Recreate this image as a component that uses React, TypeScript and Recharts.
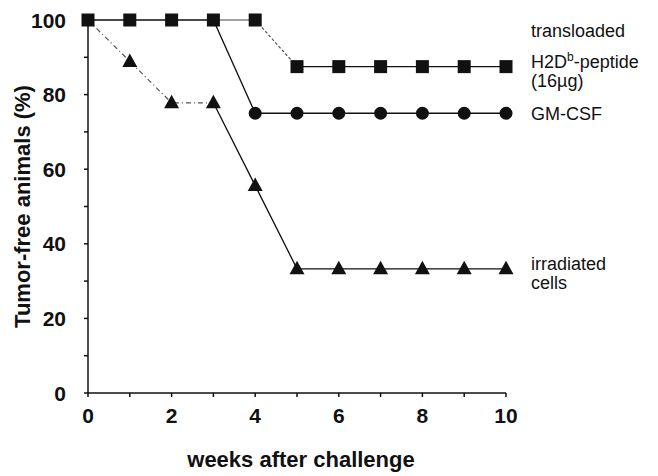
import React from "react";
import {
  LineChart,
  Line,
  XAxis,
  YAxis,
  Label,
  LabelList,
} from "recharts";

const weeks = [0, 1, 2, 3, 4, 5, 6, 7, 8, 9, 10];
const peptide = [100, 100, 100, 100, 100, 87.5, 87.5, 87.5, 87.5, 87.5, 87.5];
const gmcsf = [100, 100, 100, 100, 75, 75, 75, 75, 75, 75, 75];
const irradiated = [100, 88.9, 77.8, 77.8, 55.6, 33.3, 33.3, 33.3, 33.3, 33.3, 33.3];

const xTicks = weeks;
const yTicks = [0, 10, 20, 30, 40, 50, 60, 70, 80, 90, 100];

const FONT = "'Liberation Sans', Arial, Helvetica, sans-serif";
const INK = "#111";

// segments split so the faint parts of the scan can be drawn lighter / dashed
const data = weeks.map((w, i) => ({
  week: w,
  pepEarly: i <= 4 ? peptide[i] : null,
  pepDrop: i >= 4 && i <= 5 ? peptide[i] : null,
  pepLate: i >= 5 ? peptide[i] : null,
  peptide: peptide[i],
  gmcsf: gmcsf[i],
  irrEarly: i <= 3 ? irradiated[i] : null,
  irrLate: i >= 3 ? irradiated[i] : null,
  irradiated: irradiated[i],
}));

const none = (p: any) => <g key={p.key ?? `n-${p.index}`} />;

const squareDot = (p: any) => (
  <rect key={p.key ?? `s-${p.index}`} x={p.cx - 6.5} y={p.cy - 6.5} width={13} height={13} fill={INK} />
);

const circleDot = (p: any) =>
  p.payload.week >= 4 ? (
    <circle key={p.key ?? `c-${p.index}`} cx={p.cx} cy={p.cy} r={6.5} fill={INK} />
  ) : (
    none(p)
  );

const triangleDot = (p: any) =>
  p.payload.week >= 1 ? (
    <path
      key={p.key ?? `t-${p.index}`}
      d={`M${p.cx},${p.cy - 8} L${p.cx + 7.5},${p.cy + 5.5} L${p.cx - 7.5},${p.cy + 5.5} Z`}
      fill={INK}
    />
  ) : (
    none(p)
  );

const endLabel = (lines: { text: string; dy: number; sup?: string; rest?: string }[]) =>
  (props: any) => {
    const { x, y, index } = props;
    if (index !== weeks.length - 1) return null;
    return (
      <g>
        {lines.map((l, k) => (
          <text key={k} x={x + 25} y={y + l.dy} fontFamily={FONT} fontSize={18} fill={INK}>
            {l.text}
            {l.sup && (
              <tspan fontSize={12} dy={-7}>
                {l.sup}
              </tspan>
            )}
            {l.rest && <tspan dy={7}>{l.rest}</tspan>}
          </text>
        ))}
      </g>
    );
  };

const XTick = (p: any) => {
  const v = p.payload.value;
  if (v % 2 !== 0) return <g />;
  return (
    <text x={p.x} y={p.y} dy="0.72em" textAnchor="middle" fontFamily={FONT} fontWeight="bold" fontSize={21} fill={INK}>
      {v}
    </text>
  );
};

const YTick = (p: any) => {
  const v = p.payload.value;
  if (v % 20 !== 0) return <g />;
  return (
    <text x={p.x - 9} y={p.y} dy="0.36em" textAnchor="end" fontFamily={FONT} fontWeight="bold" fontSize={21} fill={INK}>
      {v}
    </text>
  );
};

export default function App() {
  return (
    <div style={{ position: "absolute", left: 0, top: 0, width: 658, height: 476, background: "#fff" }}>
      <LineChart
        width={658}
        height={476}
        data={data}
        margin={{ top: 20, right: 152, left: 48, bottom: 43 }}
      >
        <XAxis
          dataKey="week"
          type="number"
          domain={[0, 10]}
          ticks={xTicks}
          interval={0}
          height={40}
          tickSize={4}
          tickMargin={11}
          stroke={INK}
          strokeWidth={1.5}
          tick={<XTick />}
        >
          <Label
            content={({ viewBox }: any) => (
              <text
                x={viewBox.x + viewBox.width / 2 + 4}
                y={viewBox.y + 74}
                textAnchor="middle"
                fontFamily={FONT}
                fontWeight="bold"
                fontSize={22}
                fill={INK}
              >
                weeks after challenge
              </text>
            )}
          />
        </XAxis>
        <YAxis
          type="number"
          domain={[0, 100]}
          ticks={yTicks}
          interval={0}
          width={40}
          tickSize={4}
          tickMargin={9}
          stroke={INK}
          strokeWidth={1.5}
          tick={<YTick />}
        >
          <Label
            content={({ viewBox }: any) => {
              const cx = viewBox.x - 26;
              const cy = viewBox.y + viewBox.height / 2;
              return (
                <text
                  x={cx}
                  y={cy}
                  transform={`rotate(-90 ${cx} ${cy})`}
                  textAnchor="middle"
                  dominantBaseline="central"
                  fontFamily={FONT}
                  fontWeight="bold"
                  fontSize={22}
                  fill={INK}
                >
                  Tumor-free animals (%)
                </text>
              );
            }}
          />
        </YAxis>

        <Line dataKey="irrEarly" stroke="#555" strokeWidth={1.2} strokeDasharray="5 3 1 3" dot={none} activeDot={false} connectNulls={false} isAnimationActive={false} />
        <Line dataKey="irrLate" stroke={INK} strokeWidth={1.3} dot={none} activeDot={false} connectNulls={false} isAnimationActive={false} />
        <Line dataKey="gmcsf" stroke={INK} strokeWidth={1.3} dot={none} activeDot={false} isAnimationActive={false} />
        <Line dataKey="pepEarly" stroke="#444" strokeWidth={1.2} dot={none} activeDot={false} connectNulls={false} isAnimationActive={false} />
        <Line dataKey="pepDrop" stroke="#555" strokeWidth={1.2} strokeDasharray="3 2" dot={none} activeDot={false} connectNulls={false} isAnimationActive={false} />
        <Line dataKey="pepLate" stroke={INK} strokeWidth={1.3} dot={none} activeDot={false} connectNulls={false} isAnimationActive={false} />

        <Line dataKey="irradiated" stroke="none" dot={triangleDot} activeDot={false} isAnimationActive={false}>
          <LabelList
            dataKey="irradiated"
            content={endLabel([
              { text: "irradiated", dy: 1 },
              { text: "cells", dy: 20 },
            ])}
          />
        </Line>
        <Line dataKey="gmcsf" stroke="none" dot={circleDot} activeDot={false} isAnimationActive={false}>
          <LabelList dataKey="gmcsf" content={endLabel([{ text: "GM-CSF", dy: 7 }])} />
        </Line>
        <Line dataKey="peptide" stroke="none" dot={squareDot} activeDot={false} isAnimationActive={false}>
          <LabelList
            dataKey="peptide"
            content={endLabel([
              { text: "transloaded", dy: -30 },
              { text: "H2D", dy: 1, sup: "b", rest: "-peptide" },
              { text: "(16\u00b5g)", dy: 20 },
            ])}
          />
        </Line>
      </LineChart>
    </div>
  );
}
